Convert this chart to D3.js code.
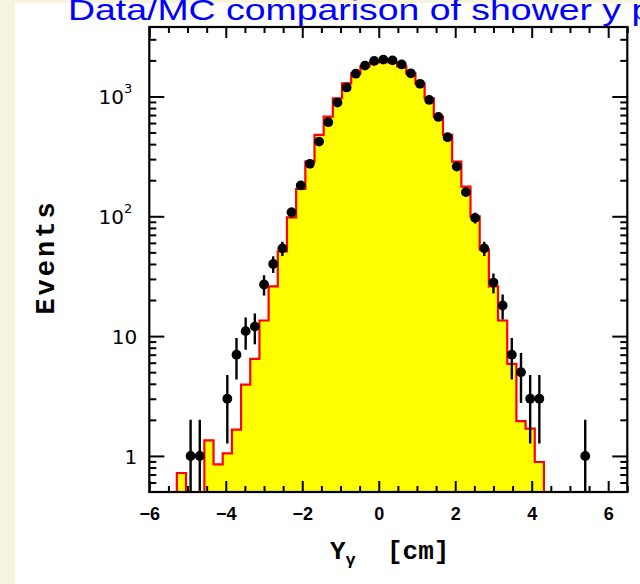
<!DOCTYPE html>
<html><head><meta charset="utf-8">
<script src="https://cdn.jsdelivr.net/npm/d3@7"></script>
<style>html,body{margin:0;padding:0;background:#f6f4dc;} svg{display:block}</style>
</head><body>
<svg id="c" width="640" height="584"></svg>
<script>
// ---- data ----
const binEdges = [-6.00,-5.76,-5.52,-5.28,-5.04,-4.80,-4.56,-4.32,-4.08,-3.84,-3.60,-3.36,-3.12,-2.88,-2.64,-2.40,-2.16,-1.92,-1.68,-1.44,-1.20,-0.96,-0.72,-0.48,-0.24,0.00,0.24,0.48,0.72,0.96,1.20,1.44,1.68,1.92,2.16,2.40,2.64,2.88,3.12,3.36,3.60,3.84,4.08,4.32,4.56,4.80,5.04,5.28,5.52,5.76,6.00,6.24,6.48];
const mcCounts = [0,0,0,0.72,0,0,1.35,0.85,1.05,1.66,3.94,6.46,13.5,26,51,98,169,286,478,679,966,1288,1560,1780,1920,1990,1920,1780,1560,1288,966,679,478,286,177,100,52.7,26,13.5,5.87,1.95,1.69,0.89,0,0,0,0,0,0,0,0,0];
const dataCounts = [0,0,0,0,1,1,0,0,3,7,11,12,27,40,54,108,181,274,420,610,890,1190,1550,1810,1980,2030,2000,1850,1560,1275,935,675,457,260,159,97,54,28,18,7,5,3,3,0,0,0,0,1,0,0,0,0];
const xMajorTicks = [-6,-4,-2,0,2,4,6];
const xTickLabels = ["\u22126","\u22124","\u22122","0","2","4","6"];
const xMinorTicks = [-5.5,-5,-4.5,-3.5,-3,-2.5,-1.5,-1,-0.5,0.5,1,1.5,2.5,3,3.5,4.5,5,5.5,6.5];
const yMajorTicks = [1,10,100,1000];
const yTickBase = ["1","10","10","10"];
const yTickExp = ["","","2","3"];
const yMinorTicks = [0.6,0.7,0.8,0.9,2,3,4,5,6,7,8,9,20,30,40,50,60,70,80,90,200,300,400,500,600,700,800,900,2000,3000];
const titleText = "Data/MC comparison of shower y position";
const xTitle = "Y";
const xTitleSub = "\u03b3";
const xTitleUnit = "  [cm]";
const yTitle = "Events";

// ---- layout ----
const L = 149.3, R = 627.3, T = 27, B = 492;
const svg = d3.select("#c");
svg.append("rect").attr("x",0).attr("y",0).attr("width",640).attr("height",584).attr("fill","#f6f4dc");
svg.append("rect").attr("x",15).attr("y",3).attr("width",625).attr("height",581).attr("fill","#ffffff");

const x = d3.scaleLinear().domain([-6,6.5]).range([L,R]);
const y = d3.scaleLog().domain([0.5,3800]).range([B,T]).clamp(true);

svg.append("clipPath").attr("id","pc").append("rect").attr("x",L).attr("y",T).attr("width",R-L).attr("height",B-T);
const plot = svg.append("g").attr("clip-path","url(#pc)");

// MC histogram
const yBottom = B + 1;
const hy = v => v > 0 ? y(v) : yBottom;
let p = d3.path();
p.moveTo(x(binEdges[0]), yBottom);
mcCounts.forEach((v,i) => {
  p.lineTo(x(binEdges[i]), hy(v));
  p.lineTo(x(binEdges[i+1]), hy(v));
});
p.lineTo(x(binEdges[binEdges.length-1]), yBottom);
p.closePath();
plot.append("path").attr("d", p.toString()).attr("fill","#ffff00").attr("stroke","#ff0000").attr("stroke-width",2.2).attr("stroke-linejoin","miter");

// data points
const pts = dataCounts.map((n,i) => ({c:(binEdges[i]+binEdges[i+1])/2, n})).filter(d => d.n > 0);
plot.selectAll("line.err").data(pts).join("line").attr("class","err")
  .attr("x1", d => x(d.c)).attr("x2", d => x(d.c))
  .attr("y1", d => { const lo = d.n - Math.sqrt(d.n); return lo > 0 ? y(lo) : B + 5; })
  .attr("y2", d => y(d.n + Math.sqrt(d.n)))
  .attr("stroke","#000").attr("stroke-width",2.4);
plot.selectAll("circle.pt").data(pts).join("circle").attr("class","pt")
  .attr("cx", d => x(d.c)).attr("cy", d => y(d.n)).attr("r",4.9).attr("fill","#000");

// axes
function style(g){ g.select(".domain").remove(); g.selectAll(".tick line").attr("stroke","#000").attr("stroke-width",2); }
// bottom
svg.append("g").attr("transform",`translate(0,${B})`)
  .call(d3.axisBottom(x).tickValues(xMajorTicks).tickSize(-11).tickPadding(15).tickFormat((d,i)=>xTickLabels[i]))
  .call(style)
  .call(g => g.selectAll("text").attr("font-family","'Liberation Sans', Arial, sans-serif").attr("font-weight","bold").attr("font-size",18).attr("fill","#000"));
svg.append("g").attr("transform",`translate(0,${B})`)
  .call(d3.axisBottom(x).tickValues(xMinorTicks).tickSize(-6).tickFormat(""))
  .call(style);
// top
svg.append("g").attr("transform",`translate(0,${T})`)
  .call(d3.axisTop(x).tickValues(xMajorTicks).tickSize(-11).tickFormat(""))
  .call(style);
svg.append("g").attr("transform",`translate(0,${T})`)
  .call(d3.axisTop(x).tickValues(xMinorTicks).tickSize(-6).tickFormat(""))
  .call(style);
// left
svg.append("g").attr("transform",`translate(${L},0)`)
  .call(d3.axisLeft(y).tickValues(yMajorTicks).tickSize(-15).tickPadding(12).tickFormat(""))
  .call(style)
  .call(g => g.selectAll(".tick text").each(function(d,i){
      const t = d3.select(this).attr("font-family","'DejaVu Sans', sans-serif").attr("font-size",20).attr("fill","#000").attr("dy","0.36em");
      if (yTickExp[i]) {
        t.attr("dx","-5");
        t.append("tspan").text(yTickBase[i]);
        t.append("tspan").text(yTickExp[i]).attr("font-size",13).attr("dy","-0.85em");
      } else {
        t.text(yTickBase[i]);
      }
  }));
svg.append("g").attr("transform",`translate(${L},0)`)
  .call(d3.axisLeft(y).tickValues(yMinorTicks).tickSize(-7).tickFormat(""))
  .call(style);
// right
svg.append("g").attr("transform",`translate(${R},0)`)
  .call(d3.axisRight(y).tickValues(yMajorTicks).tickSize(-15).tickFormat(""))
  .call(style);
svg.append("g").attr("transform",`translate(${R},0)`)
  .call(d3.axisRight(y).tickValues(yMinorTicks).tickSize(-7).tickFormat(""))
  .call(style);

// frame
svg.append("rect").attr("x",L).attr("y",T).attr("width",R-L).attr("height",B-T)
  .attr("fill","none").attr("stroke","#000").attr("stroke-width",2.2);

// axis titles
const xt = svg.append("text").attr("x",330).attr("y",559).attr("xml:space","preserve").style("white-space","pre")
  .attr("font-family","'Liberation Mono', 'Courier New', monospace").attr("font-weight","bold").attr("font-size",26).attr("fill","#000");
xt.append("tspan").text(xTitle);
xt.append("tspan").text(xTitleSub).attr("font-size",17).attr("dy",6);
xt.append("tspan").text(xTitleUnit).attr("dy",-6);

svg.append("text").attr("transform","translate(54,257) rotate(-90)").attr("text-anchor","middle")
  .attr("font-family","'Liberation Mono', 'Courier New', monospace").attr("font-weight","bold").attr("font-size",27)
  .attr("letter-spacing",3).attr("fill","#000")
  .text(yTitle);

// title
svg.append("text").attr("transform","translate(68,20) scale(1.29,1)")
  .attr("font-family","'Liberation Sans', Arial, sans-serif").attr("font-size",29).attr("fill","#0000ff")
  .text(titleText);
</script>
</body></html>
